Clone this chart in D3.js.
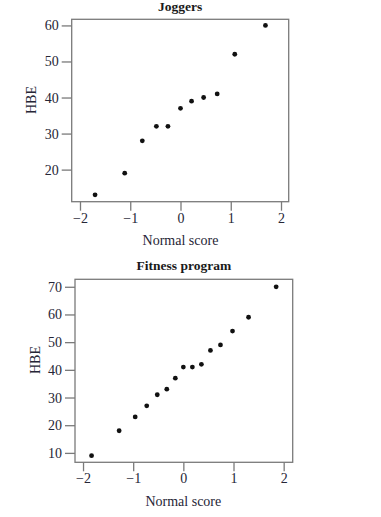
<!DOCTYPE html>
<html><head><meta charset="utf-8">
<script src="https://cdn.jsdelivr.net/npm/d3@7"></script>
<style>body{margin:0;background:#fff}svg{display:block}</style>
</head><body>
<svg id="c" width="381" height="517"></svg>
<script>
const joggersScore = [-1.70,-1.11,-0.76,-0.48,-0.25,0,0.22,0.46,0.73,1.08,1.69];
const joggersHBE   = [13,19,28,32,32,37,39,40,41,52,60];
const fitnessScore = [-1.83,-1.28,-0.96,-0.73,-0.52,-0.33,-0.16,0,0.18,0.36,0.54,0.74,0.98,1.30,1.85];
const fitnessHBE   = [9,18,23,27,31,33,37,41,41,42,47,49,54,59,70];
const xTicks = [-2,-1,0,1,2];
const joggersYTicks = [20,30,40,50,60];
const fitnessYTicks = [10,20,30,40,50,60,70];

const svg = d3.select("#c");
const font = "'Liberation Serif','Times New Roman',serif";

function panel(o){
  const g = svg.append("g");
  const x = d3.scaleLinear().domain(o.xd).range([o.l,o.r]);
  const y = d3.scaleLinear().domain(o.yd).range([o.b,o.t]);
  const fmt = d => d<0 ? "\u2212"+Math.abs(d) : String(d);
  g.append("rect").attr("x",o.l).attr("y",o.t).attr("width",o.r-o.l).attr("height",o.b-o.t)
    .attr("fill","none").attr("stroke","#7a7a7a").attr("stroke-width",1.3);
  const xa = g.append("g").attr("transform",`translate(0,${o.b})`)
    .call(d3.axisBottom(x).tickValues(xTicks).tickSize(9).tickPadding(2).tickFormat(fmt));
  const ya = g.append("g").attr("transform",`translate(${o.l},0)`)
    .call(d3.axisLeft(y).tickValues(o.yt).tickSize(10).tickPadding(3).tickFormat(fmt));
  [xa,ya].forEach(a=>{
    a.select(".domain").remove();
    a.selectAll("line").attr("stroke","#7a7a7a").attr("stroke-width",1.3);
    a.selectAll("text").attr("fill","#262636").style("font-family",font).style("font-size","14px");
  });
  g.selectAll("circle").data(o.xs).enter().append("circle")
    .attr("cx",(d)=>x(d)).attr("cy",(d,i)=>y(o.ys[i])).attr("r",2.4).attr("fill","#111");
  g.append("text").attr("x",(o.l+o.r)/2).attr("y",o.ty).attr("text-anchor","middle")
    .style("font-family",font).style("font-weight","bold").style("font-size","13.5px").attr("fill","#1a1a1a").text(o.title);
  g.append("text").attr("x",(x(-2)+x(2))/2).attr("y",o.xly).attr("text-anchor","middle")
    .style("font-family",font).style("font-size","14px").attr("fill","#262636").text("Normal score");
  g.append("text").attr("transform",`translate(${o.ylx},${o.yly}) rotate(-90)`).attr("text-anchor","middle")
    .style("font-family",font).style("font-size","14px").attr("fill","#262636").text("HBE");
}

panel({l:71.7,r:288.7,t:19.3,b:201.7,xd:[-2.165,2.153],yd:[11.1,61.7],yt:joggersYTicks,
  xs:joggersScore,ys:joggersHBE,title:"Joggers",ty:10.5,xly:245,ylx:36,yly:100});
panel({l:75,r:292.7,t:279.3,b:462.3,xd:[-2.16,2.18],yd:[6.6,72.7],yt:fitnessYTicks,
  xs:fitnessScore,ys:fitnessHBE,title:"Fitness program",ty:270,xly:506,ylx:40,yly:360});
</script>
</body></html>
